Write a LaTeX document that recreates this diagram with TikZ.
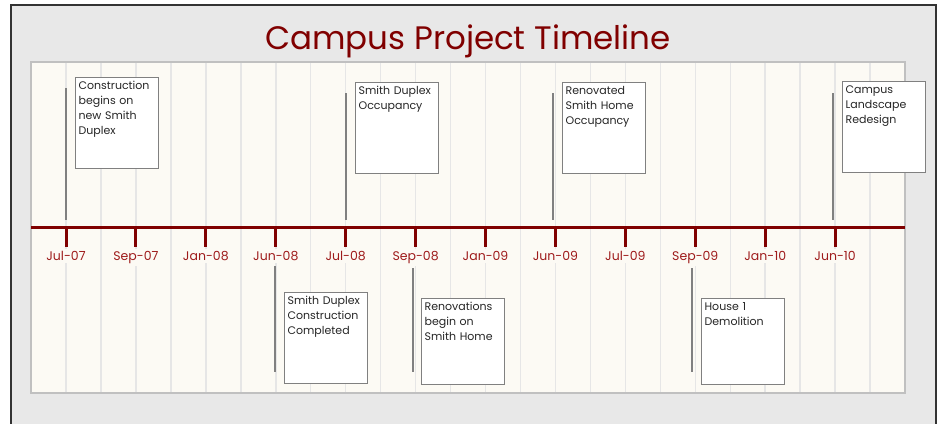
\documentclass[tikz,border=0pt]{standalone}
\usepackage{fontspec}
\setmainfont{Poppins}
\definecolor{framegray}{HTML}{E8E8E8}
\definecolor{paper}{HTML}{FCFAF4}
\definecolor{gridgray}{HTML}{E6E6E6}
\definecolor{edgegray}{HTML}{C0C0C0}
\definecolor{boxgray}{HTML}{808080}
\definecolor{axisred}{HTML}{800000}
\definecolor{datered}{HTML}{9E1B1B}
\begin{document}
\begin{tikzpicture}[x=1pt,y=-1pt,
	stem/.style={draw=boxgray,line width=1.2pt},
	evbox/.style={draw=boxgray,fill=white,line width=1.2pt,anchor=north west,inner xsep=3pt,inner ysep=3pt,text width=77pt,text height=9pt,text depth=76pt,align=left,text=black!85,font=\fontsize{11}{15}\selectfont},
	datelabel/.style={fill=paper,text=datered,inner sep=2pt,anchor=base,font=\fontsize{12.5}{15}\selectfont}]
	\useasboundingbox (0,0) rectangle (941,423);
	\draw [fill=framegray,draw=black!80,line width=2pt] (11,5) rectangle (936,440);
	\node [text=axisred,anchor=base,font=\fontsize{32.5}{36}\selectfont] (title) at (468,49) {Campus Project Timeline};
	\draw [fill=paper,draw=edgegray,line width=2pt] (31,62) rectangle (905,393);
	\foreach \i in {0,...,23}
		\draw [gridgray,line width=1.5pt] (66+34.96*\i,63) -- (66+34.96*\i,392);
	\draw [axisred,line width=3.5pt] (31,227.5) -- (905,227.5);
	\foreach \lab [count=\n from 0] in {Jul-07,Sep-07,Jan-08,Jun-08,Jul-08,Sep-08,Jan-09,Jun-09,Jul-09,Sep-09,Jan-10,Jun-10} {
		\draw [axisred,line width=3pt] (66+69.92*\n,227.5) -- (66+69.92*\n,247);
		\node [datelabel] (d\n) at (66+69.92*\n,260.5) {\lab};
	}
	\coordinate (s1a) at (66,88); \coordinate (s1b) at (66,220);
	\coordinate (s2a) at (346,93); \coordinate (s2b) at (346,220);
	\coordinate (s3a) at (553,93); \coordinate (s3b) at (553,220);
	\coordinate (s4a) at (833,93); \coordinate (s4b) at (833,220);
	\coordinate (s5a) at (275,266); \coordinate (s5b) at (275,372);
	\coordinate (s6a) at (413,268); \coordinate (s6b) at (413,372);
	\coordinate (s7a) at (692,268); \coordinate (s7b) at (692,372);
	\foreach \s in {1,...,7}
		\draw [stem] (s\s a) -- (s\s b);
	\node [evbox] (ev1) at (75,77) {Construction\\begins on\\new Smith\\Duplex};
	\node [evbox] (ev2) at (355,82) {Smith Duplex\\Occupancy};
	\node [evbox] (ev3) at (562,82) {Renovated\\Smith Home\\Occupancy};
	\node [evbox] (ev4) at (842,81) {Campus\\Landscape\\Redesign};
	\node [evbox] (ev5) at (284,292) {Smith Duplex\\Construction\\Completed};
	\node [evbox,text depth=71pt] (ev6) at (421,298) {Renovations\\begin on\\Smith Home};
	\node [evbox,text depth=71pt] (ev7) at (701,298) {House 1\\Demolition};
\end{tikzpicture}
\end{document}
